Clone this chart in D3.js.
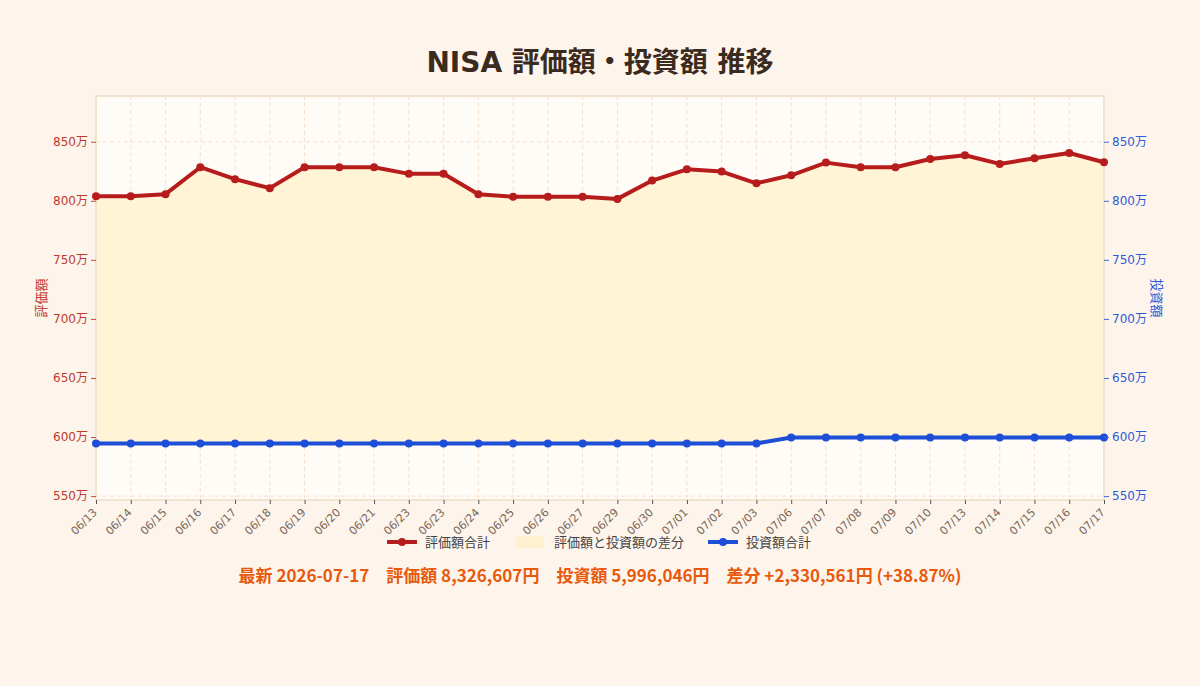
<!DOCTYPE html>
<html>
<head>
<meta charset="utf-8">
<script src="https://cdn.jsdelivr.net/npm/d3@7"></script>
<style>
  body { margin: 0; background: #fdf5ec; }
  svg { display: block; }
</style>
</head>
<body>
<div id="chart"></div>
<script>
// dates on the x axis (06/23 appears twice in the source)
var dates = ["06/13","06/14","06/15","06/16","06/17","06/18","06/19","06/20","06/21","06/23",
             "06/23","06/24","06/25","06/26","06/27","06/29","06/30","07/01","07/02","07/03",
             "07/06","07/07","07/08","07/09","07/10","07/13","07/14","07/15","07/16","07/17"];

// 評価額合計 (yen)
var valuation = [8039000, 8039000, 8056000, 8284000, 8183000, 8107000, 8284000, 8284000, 8284000, 8228000,
                 8228000, 8056000, 8034000, 8034000, 8034000, 8016000, 8171000, 8266000, 8247000, 8148000,
                 8216000, 8323000, 8284000, 8284000, 8354000, 8385000, 8312000, 8360000, 8404000, 8326607];

// 投資額合計 (yen)
var invested = [5946046, 5946046, 5946046, 5946046, 5946046, 5946046, 5946046, 5946046, 5946046, 5946046,
                5946046, 5946046, 5946046, 5946046, 5946046, 5946046, 5946046, 5946046, 5946046, 5946046,
                5996046, 5996046, 5996046, 5996046, 5996046, 5996046, 5996046, 5996046, 5996046, 5996046];

var yTicks = [5500000, 6000000, 6500000, 7000000, 7500000, 8000000, 8500000];

var W = 1200, H = 686;
var margin = {top: 96, right: 96, bottom: 186, left: 96};
var width = W - margin.left - margin.right;
var height = H - margin.top - margin.bottom;

var jp = "'Noto Sans CJK JP', 'Noto Sans', sans-serif";
var tickFont = "'DejaVu Sans', 'Noto Sans CJK JP', sans-serif";

var svg = d3.select("#chart").append("svg")
  .attr("width", W).attr("height", H);

// title
svg.append("text")
  .attr("x", W / 2).attr("y", 72)
  .attr("text-anchor", "middle")
  .style("font-family", tickFont).style("font-weight", 700).style("font-size", "28px")
  .attr("fill", "#3b2a1e")
  .text("NISA 評価額・投資額 推移");

var g = svg.append("g")
  .attr("transform", "translate(" + margin.left + "," + margin.top + ")");

var x = d3.scalePoint()
  .domain(d3.range(dates.length))
  .range([0, width]);

var y = d3.scaleLinear()
  .domain([5467000, 8887000])
  .range([height, 0]);

// plot background
g.append("rect")
  .attr("width", width).attr("height", height)
  .attr("fill", "#fffcf7");

// grid
g.append("g").selectAll("line").data(d3.range(dates.length)).join("line")
  .attr("x1", function(d) { return x(d); }).attr("x2", function(d) { return x(d); })
  .attr("y1", 0).attr("y2", height)
  .attr("stroke", "#f7dfca").attr("stroke-dasharray", "4,3");
g.append("g").selectAll("line").data(yTicks).join("line")
  .attr("x1", 0).attr("x2", width)
  .attr("y1", function(d) { return y(d); }).attr("y2", function(d) { return y(d); })
  .attr("stroke", "#f7dfca").attr("stroke-dasharray", "4,3");

// area between valuation and invested
var idx = d3.range(dates.length);
g.append("path")
  .datum(idx)
  .attr("fill", "#fff4d6")
  .attr("d", d3.area()
    .x(function(i) { return x(i); })
    .y0(function(i) { return y(invested[i]); })
    .y1(function(i) { return y(valuation[i]); }));

// frame
g.append("rect")
  .attr("width", width).attr("height", height)
  .attr("fill", "none").attr("stroke", "#f1e3d2").attr("stroke-width", 2);

// lines + points
function drawSeries(vals, color) {
  g.append("path")
    .datum(idx)
    .attr("fill", "none")
    .attr("stroke", color)
    .attr("stroke-width", 4)
    .attr("stroke-linejoin", "round")
    .attr("d", d3.line()
      .x(function(i) { return x(i); })
      .y(function(i) { return y(vals[i]); }));
  g.append("g").selectAll("circle").data(idx).join("circle")
    .attr("cx", function(i) { return x(i); })
    .attr("cy", function(i) { return y(vals[i]); })
    .attr("r", 4)
    .attr("fill", color);
}
drawSeries(valuation, "#b71c1c");
drawSeries(invested, "#1d4ed8");

// axes
var fmt = function(d) { return (d / 10000) + "万"; };

var yl = g.append("g")
  .call(d3.axisLeft(y).tickValues(yTicks).tickFormat(fmt).tickSize(5).tickPadding(3));
yl.select(".domain").remove();
yl.selectAll("line").attr("stroke", "#c84a3a");
yl.selectAll("text").attr("fill", "#c0392b").style("font-family", tickFont).style("font-size", "12px");

var yr = g.append("g")
  .attr("transform", "translate(" + width + ",0)")
  .call(d3.axisRight(y).tickValues(yTicks).tickFormat(fmt).tickSize(5).tickPadding(3));
yr.select(".domain").remove();
yr.selectAll("line").attr("stroke", "#3f66d8");
yr.selectAll("text").attr("fill", "#2f5bd8").style("font-family", tickFont).style("font-size", "12px");

var xa = g.append("g")
  .attr("transform", "translate(0," + height + ")")
  .call(d3.axisBottom(x).tickFormat(function(i) { return dates[i]; }).tickSize(4));
xa.select(".domain").remove();
xa.selectAll("line").attr("stroke", "#555");
xa.selectAll("text")
  .attr("fill", "#7a6556")
  .style("font-family", tickFont).style("font-size", "11px")
  .attr("text-anchor", "end")
  .attr("x", -2).attr("y", 0)
  .attr("dx", 0).attr("dy", "0.35em")
  .attr("transform", "translate(0,9) rotate(-45)");

// axis titles
svg.append("text")
  .attr("transform", "translate(46," + (margin.top + height / 2) + ") rotate(-90)")
  .attr("text-anchor", "middle")
  .style("font-family", jp).style("font-size", "13px")
  .attr("fill", "#c0392b")
  .text("評価額");
svg.append("text")
  .attr("transform", "translate(1152," + (margin.top + height / 2) + ") rotate(90)")
  .attr("text-anchor", "middle")
  .style("font-family", jp).style("font-size", "13px")
  .attr("fill", "#2f5bd8")
  .text("投資額");

// legend
var legend = svg.append("g").attr("transform", "translate(0,542)");
var legItems = [
  {label: "評価額合計", type: "line", color: "#b71c1c", x: 387},
  {label: "評価額と投資額の差分", type: "box", color: "#fff1cf", x: 516},
  {label: "投資額合計", type: "line", color: "#1d4ed8", x: 708}
];
legItems.forEach(function(it) {
  if (it.type === "line") {
    legend.append("line")
      .attr("x1", it.x).attr("x2", it.x + 30)
      .attr("stroke", it.color).attr("stroke-width", 4);
    legend.append("circle").attr("cx", it.x + 15).attr("r", 4).attr("fill", it.color);
  } else {
    legend.append("rect")
      .attr("x", it.x).attr("y", -6).attr("width", 28).attr("height", 12)
      .attr("fill", it.color);
  }
  legend.append("text")
    .attr("x", it.x + 38).attr("y", 0).attr("dy", "0.35em")
    .style("font-family", jp).style("font-size", "13px")
    .attr("fill", "#444")
    .text(it.label);
});

// footer summary
var last = dates.length - 1;
var diff = valuation[last] - invested[last];
var pct = diff / invested[last] * 100;
var yen = d3.format(",");
svg.append("text")
  .attr("x", W / 2).attr("y", 582)
  .attr("text-anchor", "middle")
  .attr("xml:space", "preserve")
  .style("white-space", "pre")
  .style("font-family", jp).style("font-weight", 700).style("font-size", "17px")
  .attr("fill", "#e8590c")
  .text("最新 2026-07-17　評価額 " + yen(valuation[last]) + "円　投資額 " + yen(invested[last]) +
        "円　差分 +" + yen(diff) + "円 (+" + pct.toFixed(2) + "%)");
</script>
</body>
</html>
